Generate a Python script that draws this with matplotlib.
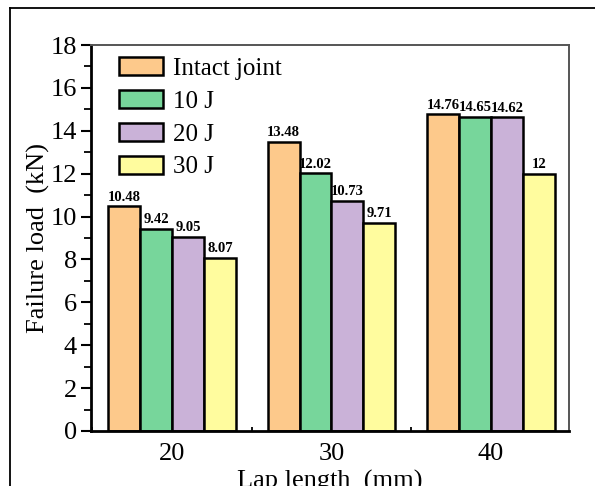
import matplotlib
matplotlib.use('Agg')
import matplotlib.pyplot as plt
import numpy as np
from matplotlib.lines import Line2D
from matplotlib.ticker import MultipleLocator

plt.rcParams['font.family'] = ['Liberation Serif', 'DejaVu Serif']

lap = [20, 30, 40]
series = ['Intact joint', '10 J', '20 J', '30 J']
intact = [10.48, 13.48, 14.76]
j10 = [9.42, 12.02, 14.65]
j20 = [9.05, 10.73, 14.62]
j30 = [8.07, 9.71, 12]
labels = [['10.48', '13.48', '14.76'],
          ['9.42', '12.02', '14.65'],
          ['9.05', '10.73', '14.62'],
          ['8.07', '9.71', '12']]
colors = ['#FDC98B', '#77D69B', '#CAB2D8', '#FFFC9E']

fig = plt.figure(figsize=(5.95, 4.86), dpi=100)
ax = fig.add_axes([0.1524, 0.1132, 0.8039, 0.7942])

w = 2.0
x = np.array(lap, dtype=float)
for i, vals in enumerate([intact, j10, j20, j30]):
    pos = x + (i - 1.5) * w
    bars = ax.bar(pos, vals, width=w, color=colors[i], edgecolor='black',
                  linewidth=1.8, label=series[i], zorder=2)
    for b, t in zip(bars, labels[i]):
        ax.text(b.get_x() + b.get_width() / 2, b.get_height() + 0.12, t,
                ha='center', va='bottom', fontsize=10.5, fontweight='bold')

ax.set_xlim(14.9, 44.9)
ax.set_ylim(0, 18)
ax.set_xticks(lap)
ax.xaxis.set_minor_locator(MultipleLocator(5))
ax.yaxis.set_major_locator(MultipleLocator(2))
ax.yaxis.set_minor_locator(MultipleLocator(1))
ax.tick_params(axis='y', which='major', direction='out', length=7, width=1.5,
               labelsize=19, pad=3)
ax.tick_params(axis='y', which='minor', direction='out', length=5, width=1.3)
ax.tick_params(axis='x', which='major', direction='in', length=0,
               labelsize=19, pad=9)
ax.tick_params(axis='x', which='minor', direction='in', length=3, width=1.3)

for s in ['left', 'bottom']:
    ax.spines[s].set_linewidth(2)
    ax.spines[s].set_color('black')
for s in ['top', 'right']:
    ax.spines[s].set_linewidth(1.4)
    ax.spines[s].set_color('#555555')

ax.set_ylabel('Failure load  (kN)', fontsize=19, labelpad=0)
ax.set_xlabel('Lap length  (mm)', fontsize=19, labelpad=3)

leg = ax.legend(loc='upper left', bbox_to_anchor=(0.028, 1.008), fontsize=18,
                frameon=False, handlelength=1.75, handleheight=0.75,
                handletextpad=0.4, labelspacing=0.40, borderaxespad=0.2)
for h in leg.legend_handles:
    h.set_linewidth(1.8)

# outer frame (top and left only)
fig.add_artist(Line2D([0.0168, 1.0], [0.9835, 0.9835], color='black', lw=1.3))
fig.add_artist(Line2D([0.0168, 0.0168], [0.0, 0.9835], color='black', lw=1.3))

fig.savefig('out.png', dpi=100)
